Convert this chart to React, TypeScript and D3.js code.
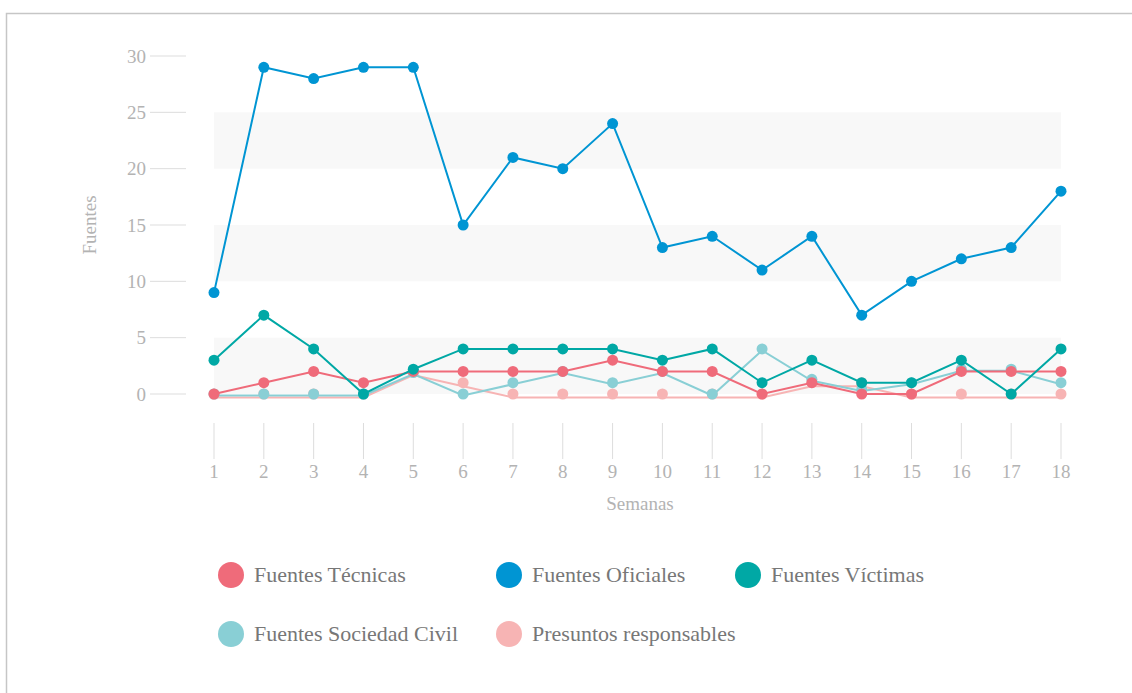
import React from "react";
import * as d3 from "d3";

const weeks = [1, 2, 3, 4, 5, 6, 7, 8, 9, 10, 11, 12, 13, 14, 15, 16, 17, 18];
const yTicks = [0, 5, 10, 15, 20, 25, 30];
const bands = [[0, 5], [10, 15], [20, 25]];

const tecnicas = [0, 1, 2, 1, 2, 2, 2, 2, 3, 2, 2, 0, 1, 0, 0, 2, 2, 2];
const oficiales = [9, 29, 28, 29, 29, 15, 21, 20, 24, 13, 14, 11, 14, 7, 10, 12, 13, 18];
const victimas = [3, 7, 4, 0, 2.2, 4, 4, 4, 4, 3, 4, 1, 3, 1, 1, 3, 0, 4];
const sociedadCivil = [0, 0, 0, 0, 1.9, 0, 1, 2, 1, 2, 0, 4, 1.3, 0.4, 1, 2.2, 2.2, 1];
const presuntos = [0, 0, 0, 0, 2, 1, 0, 0, 0, 0, 0, 0, 1, 1, 0, 0, 0, 0];

const seriesNames = [
  "Fuentes Técnicas",
  "Fuentes Oficiales",
  "Fuentes Víctimas",
  "Fuentes Sociedad Civil",
  "Presuntos responsables",
];
const seriesValues = [tecnicas, oficiales, victimas, sociedadCivil, presuntos];
const colors = ["#ef6b7a", "#0095d3", "#00a8a5", "#89cfd5", "#f7b4b4"];
const lineOffsets = [0, 0, 0, 1.5, 3.5];
const drawOrder = [4, 3, 0, 2, 1];

const legendPos = [
  { x: 231, y: 575 },
  { x: 509, y: 575 },
  { x: 748, y: 575 },
  { x: 231, y: 634 },
  { x: 509, y: 634 },
];

export default function App() {
  const x = d3.scaleLinear().domain([1, 18]).range([214, 1061]);
  const y = d3.scaleLinear().domain([0, 30]).range([394, 56]);
  const line = d3
    .line<number>()
    .x((_, i) => x(weeks[i]))
    .y((d) => y(d));
  const font = "'Liberation Serif', 'Times New Roman', serif";

  return (
    <svg
      width={1132}
      height={693}
      style={{ position: "absolute", left: 0, top: 0, background: "#fff" }}
      fontFamily={font}
    >
      <path d="M6.5,693 L6.5,13.5 L1132,13.5" fill="none" stroke="#c6c6c6" strokeWidth={1.5} />
      {bands.map(([a, b], i) => (
        <rect key={i} x={x(1)} y={y(b)} width={x(18) - x(1)} height={y(a) - y(b)} fill="#f8f8f8" />
      ))}
      {yTicks.map((t) => (
        <g key={t}>
          <line x1={150} x2={186} y1={y(t)} y2={y(t)} stroke="#dddddd" strokeWidth={1} />
          <text x={146} y={y(t)} dy="0.35em" textAnchor="end" fontSize={19} fill="#b3b3b3">
            {t}
          </text>
        </g>
      ))}
      {weeks.map((w) => (
        <g key={w}>
          <line x1={x(w)} x2={x(w)} y1={423} y2={459} stroke="#dddddd" strokeWidth={1} />
          <text x={x(w)} y={478} textAnchor="middle" fontSize={19} fill="#b3b3b3">
            {w}
          </text>
        </g>
      ))}
      <text x={640} y={510} textAnchor="middle" fontSize={19} fill="#b3b3b3">
        Semanas
      </text>
      <text
        transform="translate(96,225) rotate(-90)"
        textAnchor="middle"
        fontSize={19}
        fill="#b3b3b3"
      >
        Fuentes
      </text>
      {drawOrder.map((si) => (
        <g key={si}>
          <path
            d={line(seriesValues[si]) || ""}
            transform={`translate(0,${lineOffsets[si]})`}
            fill="none"
            stroke={colors[si]}
            strokeWidth={2}
          />
          {seriesValues[si].map((v, i) => (
            <circle key={i} cx={x(weeks[i])} cy={y(v)} r={5.5} fill={colors[si]} />
          ))}
        </g>
      ))}
      {seriesNames.map((n, i) => (
        <g key={n}>
          <circle cx={legendPos[i].x} cy={legendPos[i].y} r={13} fill={colors[i]} />
          <text x={legendPos[i].x + 23} y={legendPos[i].y + 7} fontSize={22} fill="#777777">
            {n}
          </text>
        </g>
      ))}
    </svg>
  );
}
